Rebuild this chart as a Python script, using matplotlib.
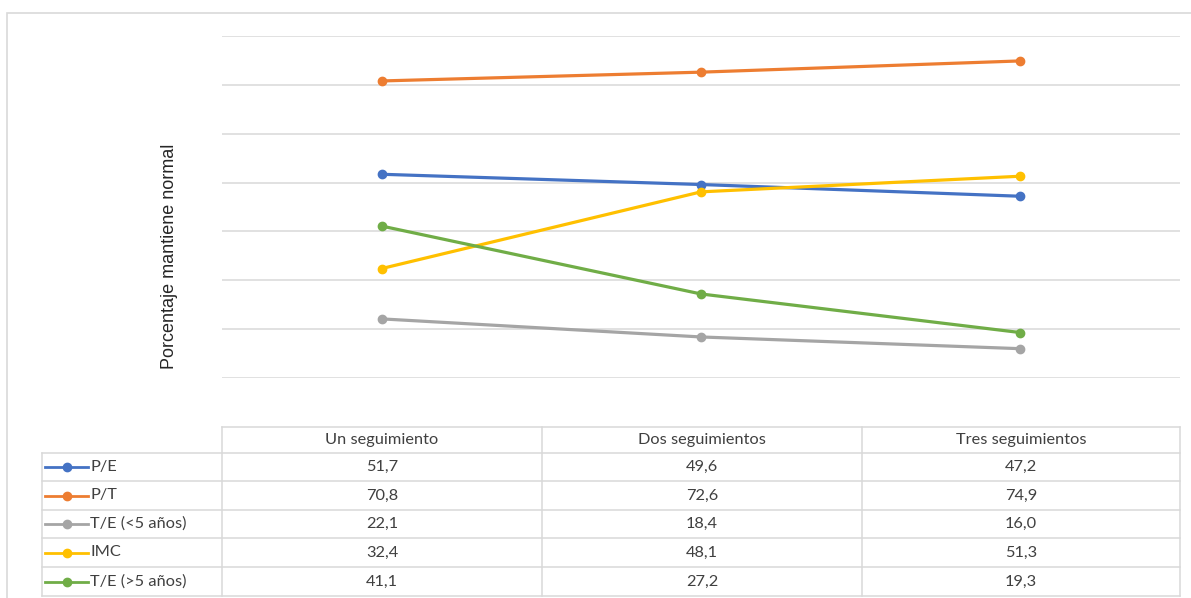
import matplotlib
matplotlib.use("Agg")
import matplotlib.pyplot as plt
from matplotlib.lines import Line2D
from matplotlib.patches import Rectangle

categories = ["Un seguimiento", "Dos seguimientos", "Tres seguimientos"]
series_names = ["P/E", "P/T", "T/E (<5 años)", "IMC", "T/E (>5 años)"]
pe = [51.7, 49.6, 47.2]
pt = [70.8, 72.6, 74.9]
te_menor5 = [22.1, 18.4, 16.0]
imc = [32.4, 48.1, 51.3]
te_mayor5 = [41.1, 27.2, 19.3]
series_values = [pe, pt, te_menor5, imc, te_mayor5]
colors = ["#4472C4", "#ED7D31", "#A5A5A5", "#FFC000", "#70AD47"]
y_min, y_max, y_step = 10, 80, 10

W, H = 1191, 598
fig = plt.figure(figsize=(W / 100, H / 100), dpi=100)
fig.patch.set_facecolor("white")

def fx(x):
    return x / W

def fy(y):
    return 1 - y / H

# Chart outer border
fig.add_artist(Rectangle((fx(7), fy(640)), fx(1200) - fx(7), fy(13) - fy(640),
                         transform=fig.transFigure, fill=False,
                         edgecolor="#D9D9D9", lw=1.2))

x0, x1 = 222, 1180
ytop, ybot = 36, 378
ax = fig.add_axes([fx(x0), fy(ybot), fx(x1) - fx(x0), fy(ytop) - fy(ybot)])
ax.set_xlim(-0.5, len(categories) - 0.5)
ax.set_ylim(y_min, y_max)
ax.set_yticks(range(y_min, y_max + 1, y_step))
ax.set_xticks([])
ax.tick_params(length=0, labelleft=False)
ax.grid(axis="y", color="#D9D9D9", lw=1.1)
for s in ax.spines.values():
    s.set_visible(False)
ax.set_facecolor("none")

xs = list(range(len(categories)))
for vals, c in zip(series_values, colors):
    ax.plot(xs, vals, color=c, lw=2.3, marker="o", markersize=6, clip_on=False, zorder=3)

fig.text(fx(170), fy(256), "Porcentaje mantiene normal", rotation=90,
         ha="center", va="center", fontsize=13, family="Liberation Sans", color="#262626")

# Data table
grid_c = "#D9D9D9"
col_edges = [222, 542, 862, 1180]
leg_left = 42
row_edges = [427, 453, 481, 510, 538, 567, 596]

def hline(y, xa, xb):
    fig.add_artist(Line2D([fx(xa), fx(xb)], [fy(y), fy(y)], transform=fig.transFigure,
                          color=grid_c, lw=1.1))

def vline(x, ya, yb):
    fig.add_artist(Line2D([fx(x), fx(x)], [fy(ya), fy(yb)], transform=fig.transFigure,
                          color=grid_c, lw=1.1))

hline(row_edges[0], col_edges[0], col_edges[-1])
for y in row_edges[1:]:
    hline(y, leg_left, col_edges[-1])
for x in col_edges:
    vline(x, row_edges[0], row_edges[-1])
vline(leg_left, row_edges[1], row_edges[-1])

tfont = dict(family="Lato", fontsize=11.8, color="#404040")
for j, cat in enumerate(categories):
    cx = (col_edges[j] + col_edges[j + 1]) / 2
    cy = (row_edges[0] + row_edges[1]) / 2
    fig.text(fx(cx), fy(cy), cat, ha="center", va="center", **tfont)

for i, (name, vals, c) in enumerate(zip(series_names, series_values, colors)):
    cy = (row_edges[i + 1] + row_edges[i + 2]) / 2
    fig.add_artist(Line2D([fx(45), fx(88)], [fy(cy), fy(cy)], transform=fig.transFigure,
                          color=c, lw=2.0))
    fig.add_artist(Line2D([fx(67)], [fy(cy)], transform=fig.transFigure,
                          color=c, marker="o", markersize=6, lw=0))
    fig.text(fx(90), fy(cy), name, ha="left", va="center", **tfont)
    for j, v in enumerate(vals):
        cx = (col_edges[j] + col_edges[j + 1]) / 2
        fig.text(fx(cx), fy(cy), f"{v:.1f}".replace(".", ","), ha="center", va="center", **tfont)

fig.savefig("out.png", dpi=100, facecolor="white")
